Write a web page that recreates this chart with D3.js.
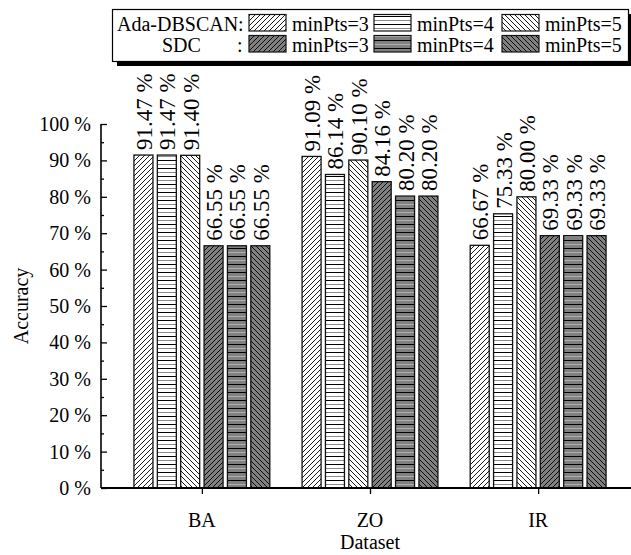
<!DOCTYPE html>
<html>
<head>
<meta charset="utf-8">
<script src="https://cdn.jsdelivr.net/npm/d3@7"></script>
<style>
  body { margin: 0; background: #fff; }
  svg text { font-family: "Liberation Serif", serif; fill: #000; }
</style>
</head>
<body>
<div id="chart"></div>
<script>
// data
const datasets = ["BA", "ZO", "IR"];
const seriesNames = ["Ada-DBSCAN minPts=3", "Ada-DBSCAN minPts=4", "Ada-DBSCAN minPts=5",
                     "SDC minPts=3", "SDC minPts=4", "SDC minPts=5"];
const ada3 = [91.47, 91.09, 66.67];
const ada4 = [91.47, 86.14, 75.33];
const ada5 = [91.40, 90.10, 80.00];
const sdc3 = [66.55, 84.16, 69.33];
const sdc4 = [66.55, 80.20, 69.33];
const sdc5 = [66.55, 80.20, 69.33];
const yTicks = [0, 10, 20, 30, 40, 50, 60, 70, 80, 90, 100];

const allSeries = [ada3, ada4, ada5, sdc3, sdc4, sdc5];
const fills = ["p-up-w", "p-hor-w", "p-down-w", "p-up-g", "p-hor-g", "p-down-g"];

const width = 631, height = 555;
const serif = "Liberation Serif";
const svg = d3.select("#chart").append("svg")
  .attr("width", width).attr("height", height)
  .attr("font-family", serif);

// hatch patterns
const defs = svg.append("defs");
function hatch(id, bg, kind) {
  const s = kind === "hor" ? 8 : 5;
  const p = defs.append("pattern").attr("id", id)
    .attr("patternUnits", "userSpaceOnUse")
    .attr("width", s).attr("height", s);
  p.append("rect").attr("width", s).attr("height", s).attr("fill", bg);
  if (kind === "hor") {
    p.append("line").attr("x1", 0).attr("x2", s).attr("y1", 0.5).attr("y2", 0.5)
      .attr("stroke", "#000").attr("stroke-width", 1);
    p.append("line").attr("x1", 0).attr("x2", s).attr("y1", 4.5).attr("y2", 4.5)
      .attr("stroke", bg === "#fff" ? "#8a8a8a" : "#b0b0b0").attr("stroke-width", 1);
  } else {
    const d = kind === "up"
      ? `M-1,1 l2,-2 M0,${s} l${s},-${s} M${s - 1},${s + 1} l2,-2`
      : `M-1,${s - 1} l2,2 M0,0 l${s},${s} M${s - 1},-1 l2,2`;
    p.append("path").attr("d", d).attr("stroke", "#000").attr("stroke-width", 0.9);
  }
}
hatch("p-up-w", "#fff", "up");
hatch("p-hor-w", "#fff", "hor");
hatch("p-down-w", "#fff", "down");
hatch("p-up-g", "#808080", "up");
hatch("p-hor-g", "#808080", "hor");
hatch("p-down-g", "#808080", "down");

const x = d3.scaleLinear().domain([0.4, 3.6]).range([101, 639]);
const y = d3.scaleLinear().domain([0, 100]).range([488, 124]);

const pitch = 0.139, barW = 0.113;

// bars
allSeries.forEach((vals, si) => {
  const g = svg.append("g");
  const rows = vals.map((v, ci) => ({ v, c: ci + 1 + (si - 2.5) * pitch }));
  g.selectAll("rect").data(rows).join("rect")
    .attr("x", d => x(d.c - barW / 2))
    .attr("width", x(barW) - x(0))
    .attr("y", d => y(d.v))
    .attr("height", d => y(0) - y(d.v))
    .attr("fill", `url(#${fills[si]})`)
    .attr("stroke", "#111").attr("stroke-width", 1.3);
  g.selectAll("text").data(rows).join("text")
    .attr("transform", d => `translate(${x(d.c) + 1},${y(d.v) - 5}) rotate(-90)`)
    .attr("dominant-baseline", "central")
    .attr("font-family", serif)
    .attr("font-size", 23)
    .text(d => d.v.toFixed(2) + " %");
});

// y axis
const yAxis = svg.append("g").attr("transform", "translate(101,0)")
  .call(d3.axisRight(y).tickValues(yTicks).tickSize(6).tickFormat(""))
  .call(g => g.select(".domain").attr("stroke-width", 1.6).attr("d", `M0,${y(0)}V${y(100)}`));
yAxis.selectAll(".tick line").attr("stroke-width", 1.3);
svg.append("g").attr("transform", "translate(101,0)")
  .call(d3.axisRight(y).tickValues(d3.range(5, 100, 10)).tickSize(3).tickFormat(""))
  .call(g => g.select(".domain").remove())
  .selectAll(".tick line").attr("stroke-width", 1.3);
svg.append("g").selectAll("text").data(yTicks).join("text")
  .attr("x", 91).attr("y", d => y(d))
  .attr("text-anchor", "end").attr("dominant-baseline", "central")
  .attr("font-family", serif).attr("font-size", 20)
  .text(d => d + " %");

// x axis
svg.append("g").attr("transform", `translate(0,${y(0)})`)
  .call(d3.axisBottom(x).tickValues([1, 2, 3]).tickSize(6).tickFormat(""))
  .call(g => g.select(".domain").attr("stroke-width", 1.8).attr("d", `M${x(0.4)},0H${width}`))
  .selectAll(".tick line").attr("stroke-width", 1.3);
svg.append("g").selectAll("text").data(datasets).join("text")
  .attr("x", (d, i) => x(i + 1)).attr("y", 527)
  .attr("text-anchor", "middle").attr("font-family", serif).attr("font-size", 20)
  .text(d => d);

svg.append("text").attr("x", x(2)).attr("y", 549)
  .attr("text-anchor", "middle").attr("font-family", serif).attr("font-size", 20).text("Dataset");
svg.append("text").attr("transform", `translate(28,${(y(0) + y(100)) / 2}) rotate(-90)`)
  .attr("text-anchor", "middle").attr("font-family", serif).attr("font-size", 20).text("Accuracy");

// legend
const lg = svg.append("g").attr("font-family", serif).attr("font-size", 20);
lg.append("rect").attr("x", 117).attr("y", 14).attr("width", 516).attr("height", 52).attr("fill", "#000");
lg.append("rect").attr("x", 112.5).attr("y", 9.5).attr("width", 516).attr("height", 52)
  .attr("fill", "#fff").attr("stroke", "#000").attr("stroke-width", 1.2);
const rowY = [14.5, 35.5];
const rowBase = [30.5, 51.5];
const swX = [249, 374, 502];
lg.append("text").attr("x", 117).attr("y", rowBase[0]).text("Ada-DBSCAN:");
lg.append("text").attr("x", 162).attr("y", rowBase[1]).text("SDC");
lg.append("text").attr("x", 237).attr("y", rowBase[1]).text(":");
const legendItems = seriesNames.map((n, i) => ({ row: Math.floor(i / 3), col: i % 3, fill: fills[i], label: n.split(" ")[1] }));
lg.selectAll("rect.sw").data(legendItems).join("rect").attr("class", "sw")
  .attr("x", d => swX[d.col]).attr("y", d => rowY[d.row])
  .attr("width", 37).attr("height", 16.5)
  .attr("fill", d => `url(#${d.fill})`).attr("stroke", "#111").attr("stroke-width", 1.2);
lg.selectAll("text.lb").data(legendItems).join("text").attr("class", "lb")
  .attr("x", d => swX[d.col] + 43).attr("y", d => rowBase[d.row])
  .text(d => d.label);
</script>
</body>
</html>
